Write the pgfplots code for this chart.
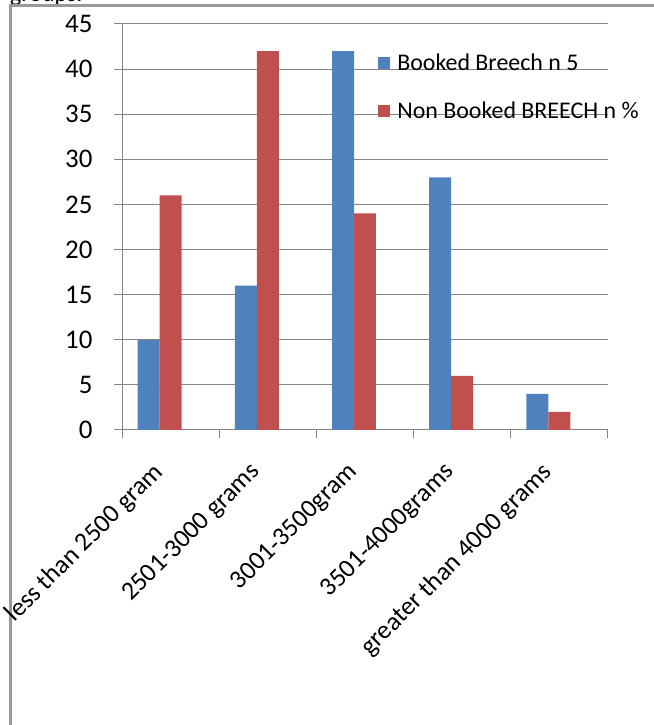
\documentclass[border=0pt]{standalone}
\usepackage{fontspec}
\setmainfont{Carlito}
\usepackage{pgfplots}
\pgfplotsset{compat=1.18}
\definecolor{xblue}{HTML}{4F81BD}
\definecolor{xred}{HTML}{C0504D}
\definecolor{xgrid}{HTML}{868686}
\definecolor{xframe}{HTML}{9A9A9A}
\begin{document}
\begin{tikzpicture}
\useasboundingbox (0,0) rectangle (654bp,725bp);
\begin{scope}
\clip (0,719bp) rectangle (654bp,725bp);
\node[anchor=base west, inner sep=0pt, font=\fontsize{24}{28}\selectfont] at (10bp,723.5bp) {groups.};
\end{scope}
\draw[xframe, line width=2.4bp] (10.5bp,0) -- (10.5bp,719.5bp) -- (654bp,719.5bp);
\begin{axis}[
  at={(122bp,295bp)}, anchor=south west,
  scale only axis, width=486bp, height=406bp,
  xmin=-0.5, xmax=4.5, ymin=0, ymax=45,
  axis lines*=left,
  axis line style={xgrid, line width=1bp},
  ymajorgrids, grid style={xgrid, line width=1bp},
  ytick={0,5,...,45},
  tick align=outside,
  major tick length=8bp,
  tick style={xgrid, line width=1bp},
  xtick={-0.5,0.5,...,4.5},
  xticklabels={},
  extra x ticks={0,1,2,3,4},
  extra x tick labels={less than 2500 gram,2501-3000 grams,3001-3500gram,3501-4000grams,greater than 4000 grams},
  extra x tick style={major tick length=0pt, grid=none,
     xticklabel style={rotate=45, anchor=north east, inner sep=0pt, xshift=-35bp, yshift=-8bp}},
  /pgf/number format/assume math mode=true,
  yticklabel style={font=\fontsize{27}{30}\selectfont, xshift=-18bp},
  xticklabel style={font=\fontsize{26}{30}\selectfont},
  clip=false,
  legend style={at={(0.527,0.93)}, anchor=north west, draw=none, fill=none,
     font=\fontsize{24}{26}\selectfont, row sep=28bp, inner sep=0pt,
     nodes={inner sep=1bp}},
  legend cell align=left,
]
\addplot[ybar, bar width=0.226, bar shift=-0.113-0.113, fill=xblue, draw=none,
  legend image code/.code={\fill[xblue] (0bp,-6bp) rectangle (12bp,6bp);}]
  coordinates {(0,10) (1,16) (2,42) (3,28) (4,4)};
\addlegendentry{\hspace{6bp}Booked Breech n 5}
\addplot[ybar, bar width=0.226, bar shift=0, fill=xred, draw=none,
  legend image code/.code={\fill[xred] (0bp,-6bp) rectangle (12bp,6bp);}]
  coordinates {(0,26) (1,42) (2,24) (3,6) (4,2)};
\addlegendentry{\hspace{6bp}Non Booked BREECH n \%}
\end{axis}
\end{tikzpicture}
\end{document}
